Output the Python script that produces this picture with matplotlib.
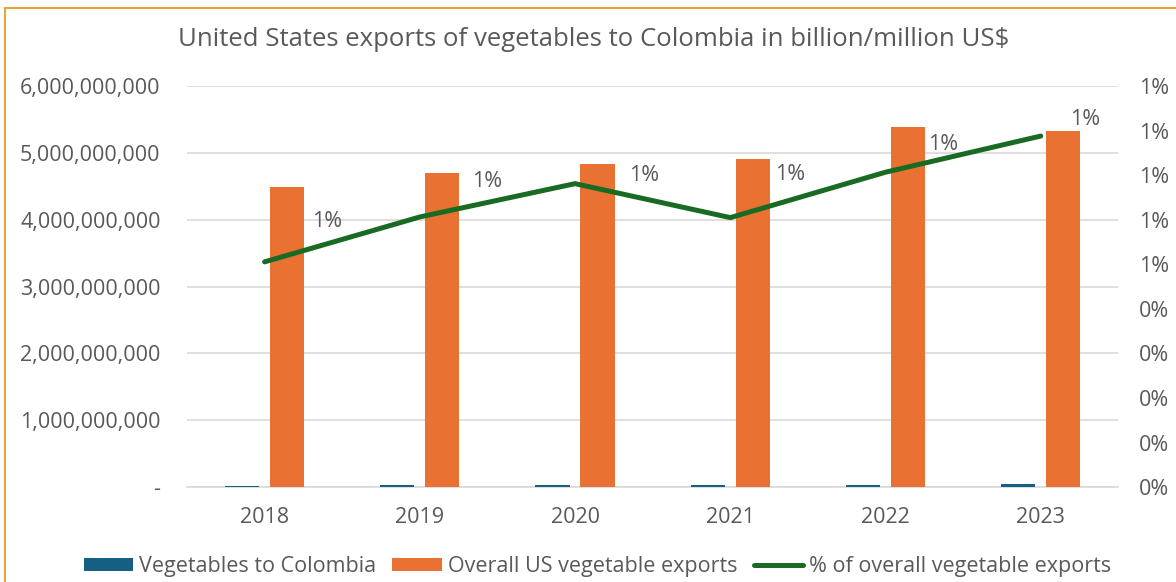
import numpy as np
import matplotlib
matplotlib.use("Agg")
import matplotlib.pyplot as plt
from matplotlib.patches import Patch, Rectangle
from matplotlib.lines import Line2D
from matplotlib.ticker import FuncFormatter

# Export values in US$
years = ["2018", "2019", "2020", "2021", "2022", "2023"]
colombia = [22.7e6, 28.5e6, 32.9e6, 29.7e6, 38.1e6, 42.0e6]
overall = [4.49e9, 4.70e9, 4.83e9, 4.91e9, 5.39e9, 5.33e9]

# where each "1%" label sits relative to its point (pixels, right/up)
label_offsets = [(63, 40), (67, 35), (69, 8), (60, 43), (58, 28), (44, 17)]

BLUE = "#156082"
ORANGE = "#E97132"
GREEN = "#196B24"
TEXT = "#595959"
GRID = "#D9D9D9"
FS = 15.5

plt.rcParams["font.family"] = ["Open Sans", "DejaVu Sans"]

share = np.array(colombia) / np.array(overall)
x = np.arange(len(years))

fig = plt.figure(figsize=(11.76, 5.82), dpi=100)
ax = fig.add_axes([0.159, 0.163, 0.792, 0.689])

w = 0.22
ax.bar(x - 0.145, colombia, w, color=BLUE, zorder=3)
ax.bar(x + 0.145, overall, w, color=ORANGE, zorder=3)

ax.set_xlim(-0.5, len(years) - 0.5)
ax.set_ylim(0, 6e9)
ax.set_yticks(np.arange(0, 6.01e9, 1e9))
ax.yaxis.set_major_formatter(FuncFormatter(lambda v, p: "-" if v == 0 else f"{v:,.0f}"))
ax.set_xticks(x)
ax.set_xticklabels(years)
ax.grid(axis="y", color=GRID, linewidth=1.2, zorder=0)
for s in ["top", "right", "left"]:
    ax.spines[s].set_visible(False)
ax.spines["bottom"].set_color(GRID)
ax.spines["bottom"].set_linewidth(1.2)
ax.tick_params(axis="both", length=0, colors=TEXT, labelsize=FS)
ax.tick_params(axis="y", pad=19)
ax.tick_params(axis="x", pad=14)

ax2 = ax.twinx()
ax2.plot(x, share, color=GREEN, linewidth=3.6, solid_capstyle="round", zorder=4)
ax2.set_ylim(0, 0.009)
ax2.set_yticks(np.linspace(0, 0.009, 10))
ax2.yaxis.set_major_formatter(FuncFormatter(lambda v, p: f"{int(np.floor(v * 100 + 0.5 + 1e-9))}%"))
for s in ["top", "right", "left", "bottom"]:
    ax2.spines[s].set_visible(False)
ax2.tick_params(axis="y", length=0, colors=TEXT, labelsize=FS, pad=15)

for xi, v, (dx, dy) in zip(x, share, label_offsets):
    ax2.annotate(f"{int(np.floor(v * 100 + 0.5))}%", (xi, v), xytext=(dx, dy),
                 textcoords="offset pixels", ha="center", va="center",
                 color=TEXT, fontsize=FS)

fig.text(0.505, 0.932, "United States exports of vegetables to Colombia in billion/million US$",
         ha="center", va="center", color=TEXT, fontsize=18.5)

handles = [
    Patch(facecolor=BLUE, label="Vegetables to Colombia"),
    Patch(facecolor=ORANGE, label="Overall US vegetable exports"),
    Line2D([0], [0], color=GREEN, linewidth=3.6, solid_capstyle="round",
           label="% of overall vegetable exports"),
]
fig.legend(handles=handles, loc="center", bbox_to_anchor=(0.508, 0.027), ncol=3,
           frameon=False, fontsize=FS, labelcolor=TEXT, handlelength=2.3,
           handleheight=0.55, handletextpad=0.28, columnspacing=0.75)

# chart frame
fig.patches.append(Rectangle((5 / 1176, -0.05), 1.2, 1.05 - 8 / 582,
                             transform=fig.transFigure, fill=False,
                             edgecolor="#E8A33D", linewidth=1.5))

fig.savefig("out.png", dpi=100)
